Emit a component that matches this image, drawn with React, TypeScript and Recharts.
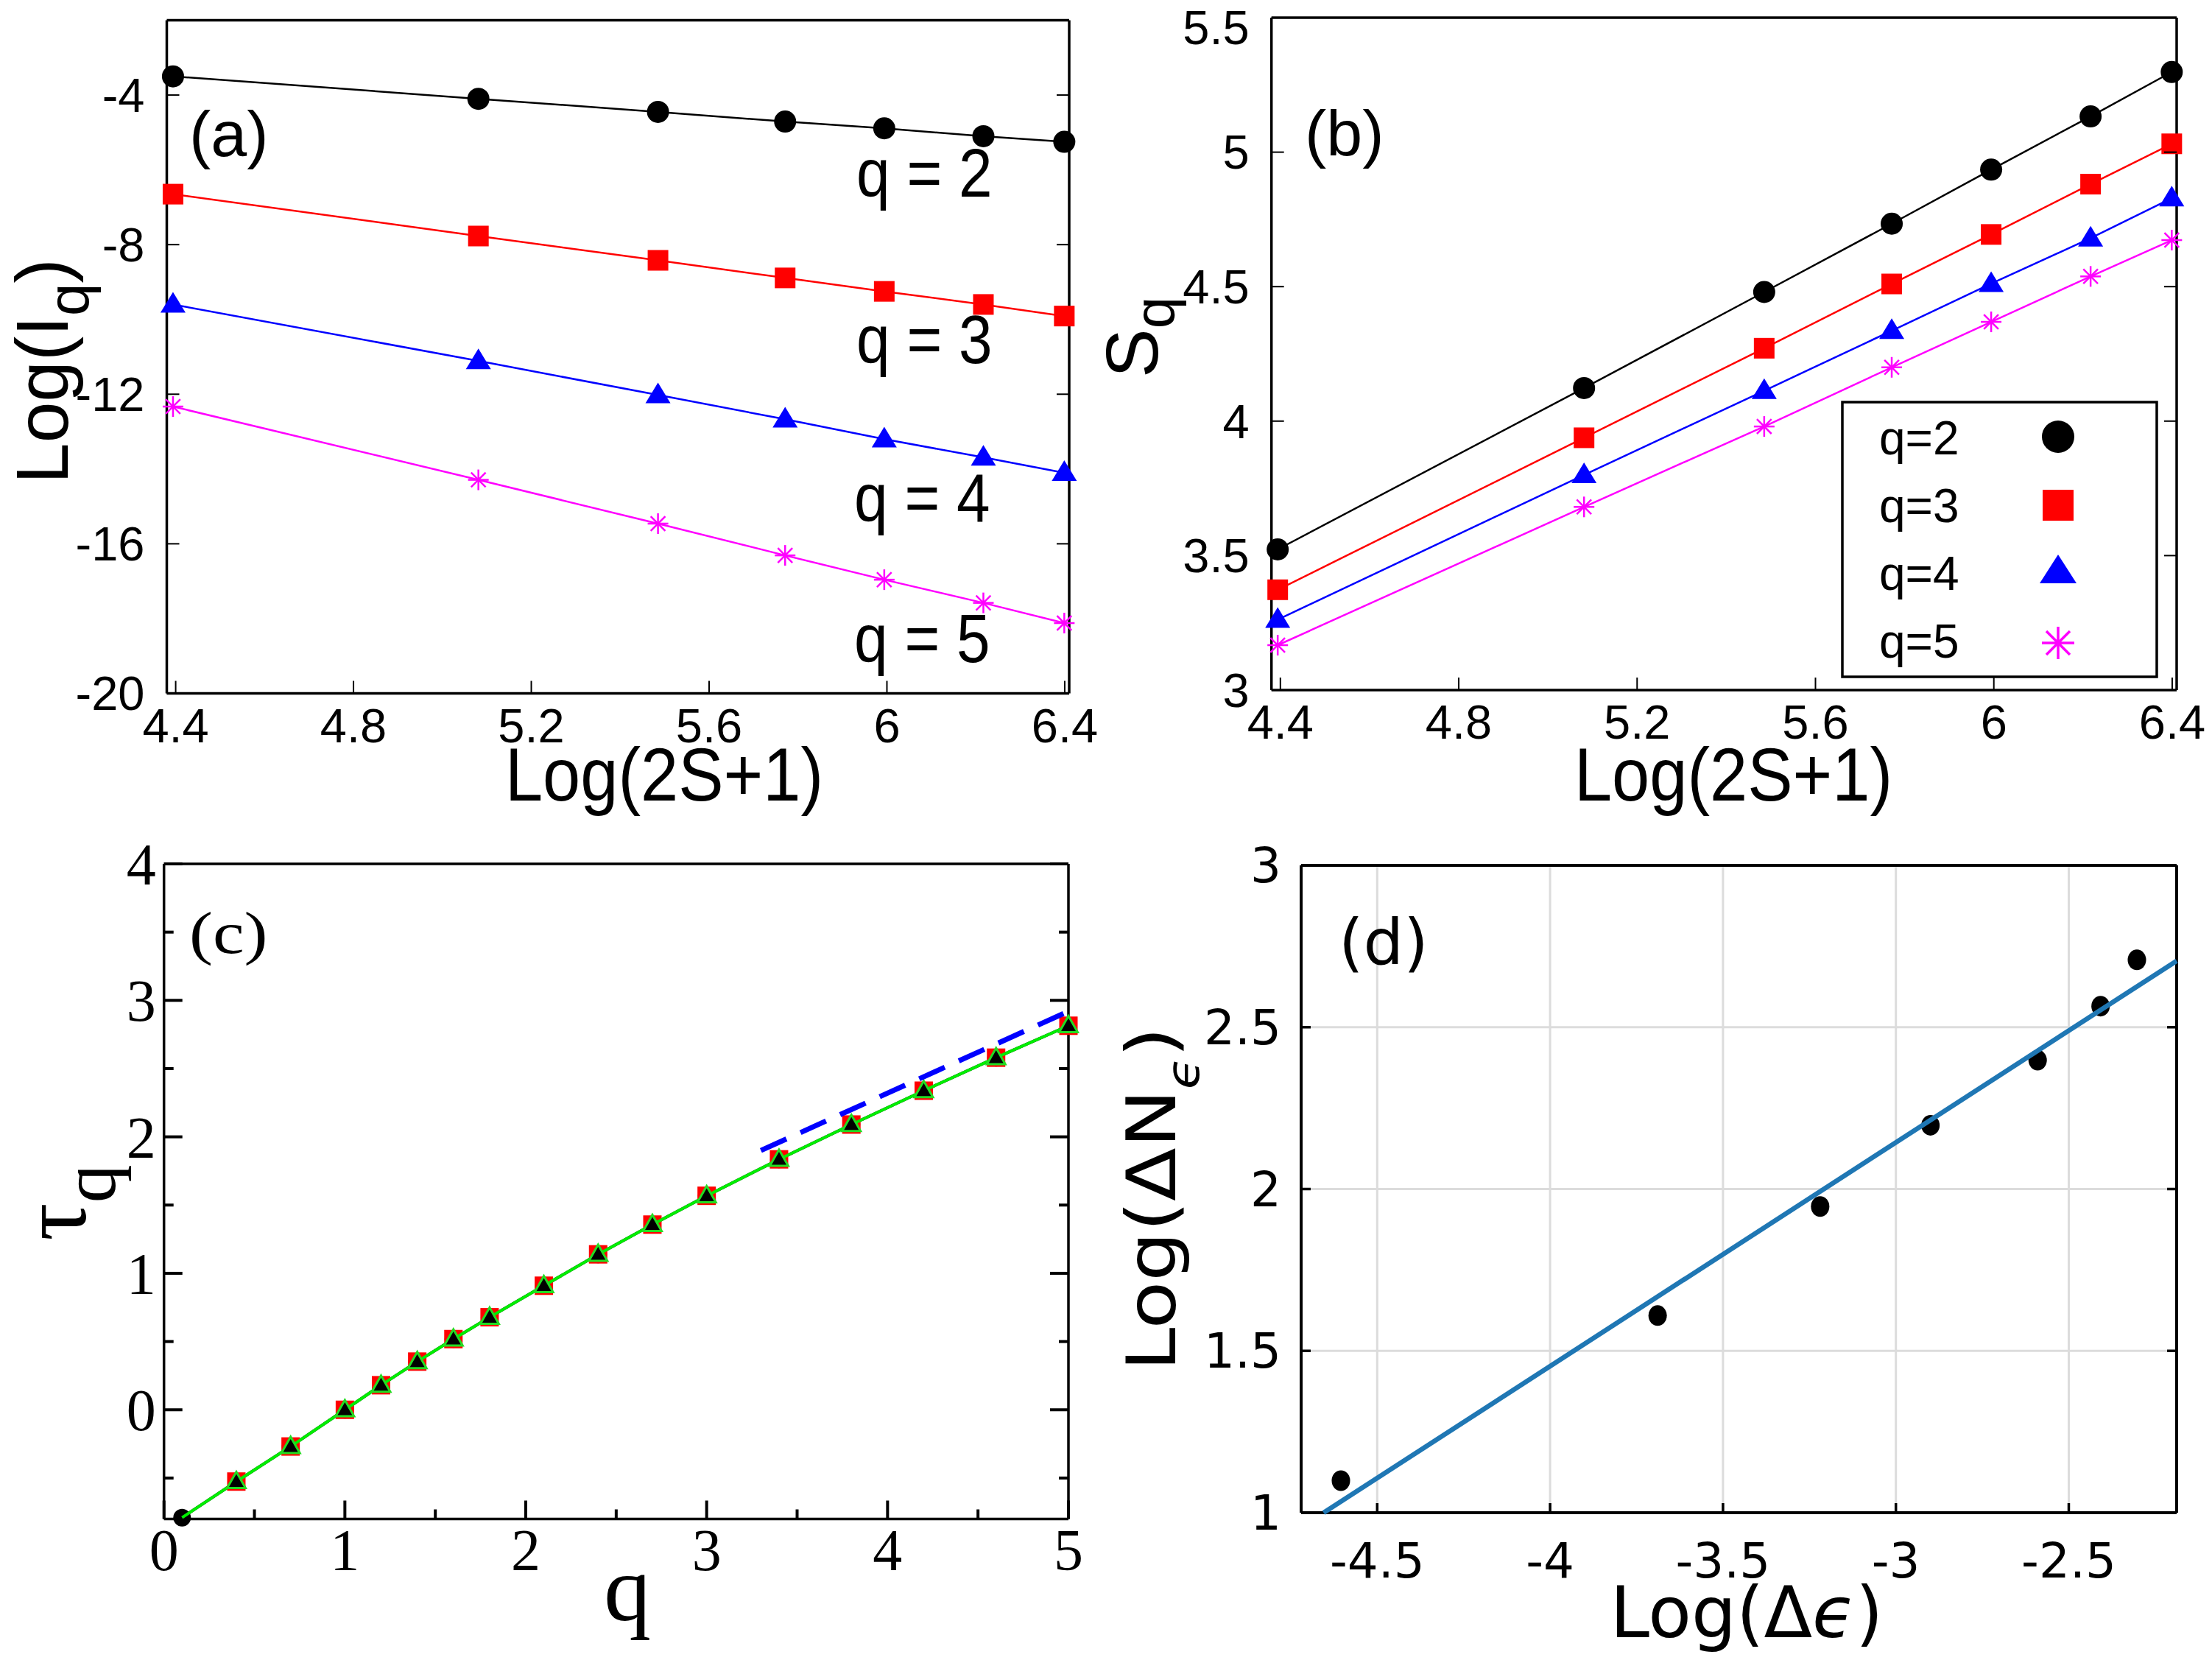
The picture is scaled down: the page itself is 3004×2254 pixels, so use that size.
import React from 'react';
import { ComposedChart, Scatter, XAxis, YAxis, CartesianGrid } from 'recharts';

const W = 3004;
const H = 2254;

const SANS = '"Liberation Sans", Arial, sans-serif';
const SERIF = '"Liberation Serif", "Times New Roman", serif';
const DEJAVU = '"DejaVu Sans", sans-serif';

// (a), (b): system size axis, Log(2S+1) for S = 40 ... 300
const logSize = [4.394, 5.081, 5.485, 5.771, 5.994, 6.217, 6.399];
const sizeTicks = [4.4, 4.8, 5.2, 5.6, 6, 6.4];

// (a) Log(I_q)
const logI2 = [-3.5, -4.1, -4.45, -4.71, -4.89, -5.1, -5.25];
const logI3 = [-6.65, -7.77, -8.42, -8.89, -9.25, -9.6, -9.91];
const logI4 = [-9.6, -11.11, -12.02, -12.67, -13.2, -13.69, -14.1];
const logI5 = [-12.33, -14.29, -15.46, -16.31, -16.96, -17.58, -18.12];
const logITicks = [-20, -16, -12, -8, -4];

// (b) S_q
const sq2 = [3.523, 4.123, 4.48, 4.734, 4.935, 5.133, 5.298];
const sq3 = [3.373, 3.938, 4.271, 4.51, 4.694, 4.881, 5.031];
const sq4 = [3.262, 3.8, 4.113, 4.336, 4.511, 4.68, 4.829];
const sq5 = [3.167, 3.681, 3.98, 4.2, 4.369, 4.538, 4.673];
const sqTicks = [3, 3.5, 4, 4.5, 5, 5.5];

// (c) tau_q
const qValues = [0.1, 0.4, 0.7, 1.0, 1.2, 1.4, 1.6, 1.8, 2.1, 2.4, 2.7, 3.0, 3.4, 3.8, 4.2, 4.6, 5.0];
const tauValues = [-0.79, -0.526, -0.269, 0, 0.18, 0.353, 0.518, 0.678, 0.909, 1.139, 1.357, 1.568, 1.835, 2.09, 2.338, 2.58, 2.814];
const slopeQ = [3.3, 5.0];
const slopeTau = [1.9, 2.92];
const qTicks = [0, 0.5, 1, 1.5, 2, 2.5, 3, 3.5, 4, 4.5, 5];
const tauTicks = [-0.5, 0, 0.5, 1, 1.5, 2, 2.5, 3, 3.5, 4];

// (d) Log(dN) vs Log(d eps)
const logEps = [-4.605, -3.689, -3.219, -2.9, -2.59, -2.408, -2.303];
const logDN = [1.099, 1.609, 1.946, 2.197, 2.398, 2.565, 2.708];
const fitEps = [-4.655, -2.188];
const fitDN = [1.0, 2.705];
const epsTicks = [-4.5, -4, -3.5, -3, -2.5];
const dnTicks = [1, 1.5, 2, 2.5, 3];

const pts = (xs: number[], ys: number[]) => xs.map((x, i) => ({ x, y: ys[i] }));

type Box = { left: number; right: number; top: number; bottom: number };

type TickStyle = {
  len: number;
  minorLen: number;
  width: number;
  isMajor: (v: number) => boolean;
  font: string;
  size: number;
  xDy: number;
  yGap: number;
};

function tickRenderer(side: 'bottom' | 'top' | 'left' | 'right', st: TickStyle) {
  return function TickMark(props: any) {
    const { x, y, payload } = props;
    const v = Number(payload.value);
    const major = st.isMajor(v);
    const len = major ? st.len : st.minorLen;
    let x2 = x;
    let y2 = y;
    if (side === 'bottom') y2 = y - len;
    if (side === 'top') y2 = y + len;
    if (side === 'left') x2 = x + len;
    if (side === 'right') x2 = x - len;
    // keep the topmost label inside the page
    const yBase = Math.max(y + st.size * 0.35, st.size * 0.92);
    return (
      <g>
        <line x1={x} y1={y} x2={x2} y2={y2} stroke="#000" strokeWidth={st.width} />
        {major && side === 'bottom' && (
          <text x={x} y={y + st.xDy} textAnchor="middle" fontFamily={st.font} fontSize={st.size} fill="#000">
            {String(v)}
          </text>
        )}
        {major && side === 'left' && (
          <text x={x - st.yGap} y={yBase} textAnchor="end" fontFamily={st.font} fontSize={st.size} fill="#000">
            {String(v)}
          </text>
        )}
      </g>
    );
  };
}

type PanelProps = {
  box: Box;
  xDomain: [number, number];
  yDomain: [number, number];
  xTicks: number[];
  yTicks: number[];
  st: TickStyle;
  frame: number;
  grid?: boolean;
  children: React.ReactNode;
};

function Panel({ box, xDomain, yDomain, xTicks, yTicks, st, frame, grid, children }: PanelProps) {
  const margin = { left: box.left - 1, right: W - box.right - 1, top: box.top - 1, bottom: H - box.bottom - 1 };
  const axisLine = { stroke: '#000', strokeWidth: frame };
  const common = { type: 'number' as const, interval: 0, tickSize: 0, tickMargin: 0, tickLine: false, axisLine };
  return (
    <div style={{ position: 'absolute', left: 0, top: 0 }}>
      <ComposedChart width={W} height={H} margin={margin}>
        {grid && <CartesianGrid stroke="#dcdcdc" strokeWidth={3} />}
        <XAxis {...common} dataKey="x" domain={xDomain} ticks={xTicks} height={1} tick={tickRenderer('bottom', st)} />
        <XAxis {...common} xAxisId="top" orientation="top" domain={xDomain} ticks={xTicks} allowDataOverflow height={1} tick={tickRenderer('top', st)} />
        <YAxis {...common} dataKey="y" domain={yDomain} ticks={yTicks} width={1} tick={tickRenderer('left', st)} />
        <YAxis {...common} yAxisId="right" orientation="right" domain={yDomain} ticks={yTicks} allowDataOverflow width={1} tick={tickRenderer('right', st)} />
        {children}
      </ComposedChart>
    </div>
  );
}

// marker shapes
const dot = (r: number, fill: string) => (p: any) => <circle cx={p.cx} cy={p.cy} r={r} fill={fill} />;
const oval = (rx: number, ry: number, fill: string) => (p: any) => <ellipse cx={p.cx} cy={p.cy} rx={rx} ry={ry} fill={fill} />;
const square = (s: number, fill: string) => (p: any) => (
  <rect x={p.cx - s / 2} y={p.cy - s / 2} width={s} height={s} fill={fill} />
);
const triangle = (w: number, h: number, fill: string, stroke = 'none', sw = 0) => (p: any) => (
  <polygon
    points={`${p.cx},${p.cy - h * 0.6} ${p.cx - w / 2},${p.cy + h * 0.4} ${p.cx + w / 2},${p.cy + h * 0.4}`}
    fill={fill}
    stroke={stroke}
    strokeWidth={sw}
  />
);
const asterisk = (s: number, color: string, sw: number) => (p: any) => {
  const r = s / 2;
  const d = r * 0.707;
  return (
    <g stroke={color} strokeWidth={sw}>
      <line x1={p.cx} y1={p.cy - r} x2={p.cx} y2={p.cy + r} />
      <line x1={p.cx - r} y1={p.cy} x2={p.cx + r} y2={p.cy} />
      <line x1={p.cx - d} y1={p.cy - d} x2={p.cx + d} y2={p.cy + d} />
      <line x1={p.cx - d} y1={p.cy + d} x2={p.cx + d} y2={p.cy - d} />
    </g>
  );
};
const noMark = () => <g />;

const allMajor = () => true;

const gStyle: TickStyle = { len: 17, minorLen: 17, width: 2, isMajor: allMajor, font: SANS, size: 65, xDy: 66, yGap: 30 };
const cStyle: TickStyle = { len: 25, minorLen: 13, width: 4, isMajor: (v) => Number.isInteger(v), font: SERIF, size: 80, xDy: 69, yGap: 11 };
const dStyle: TickStyle = { len: 13, minorLen: 13, width: 3.5, isMajor: allMajor, font: DEJAVU, size: 66, xDy: 88, yGap: 27 };

type TxtProps = {
  x: number;
  y: number;
  size: number;
  family: string;
  anchor?: 'start' | 'middle' | 'end';
  rotate?: number;
  sx?: number;
  sy?: number;
  children: React.ReactNode;
};

function Txt({ x, y, size, family, anchor = 'start', rotate = 0, sx = 1, sy = 1, children }: TxtProps) {
  return (
    <text
      transform={`translate(${x} ${y}) rotate(${rotate}) scale(${sx} ${sy})`}
      fontSize={size}
      fontFamily={family}
      textAnchor={anchor}
      fill="#000"
    >
      {children}
    </text>
  );
}

const legendRows = ['q=2', 'q=3', 'q=4', 'q=5'];

function Annotations() {
  return (
    <svg width={W} height={H} style={{ position: 'absolute', left: 0, top: 0 }}>
      {/* panel (a) */}
      <Txt x={257} y={212} size={88} family={SANS}>(a)</Txt>
      <Txt x={1163} y={267} size={82} family={SANS} sy={1.12}>q = 2</Txt>
      <Txt x={1163} y={493} size={82} family={SANS} sy={1.12}>q = 3</Txt>
      <Txt x={1160} y={708} size={82} family={SANS} sy={1.12}>q = 4</Txt>
      <Txt x={1160} y={899} size={82} family={SANS} sy={1.12}>q = 5</Txt>
      <Txt x={902} y={1087} size={92} family={SANS} anchor="middle" sy={1.1}>Log(2S+1)</Txt>
      <Txt x={92} y={504} size={100} family={SANS} anchor="middle" rotate={-90}>
        Log(I<tspan dy={28} fontSize={80}>q</tspan>
        <tspan dy={-28}>)</tspan>
      </Txt>

      {/* panel (b) */}
      <Txt x={1772} y={211} size={88} family={SANS}>(b)</Txt>
      <Txt x={2354} y={1087} size={92} family={SANS} anchor="middle" sy={1.1}>Log(2S+1)</Txt>
      <Txt x={1572} y={458} size={100} family={SANS} anchor="middle" rotate={-90}>
        S<tspan dy={23} fontSize={78}>q</tspan>
      </Txt>
      <rect x={2502} y={546} width={427} height={373} fill="#fff" stroke="#000" strokeWidth={3.5} />
      {legendRows.map((t, i) => (
        <Txt key={t} x={2552} y={617 + i * 92} size={64} family={SANS}>{t}</Txt>
      ))}
      <circle cx={2795} cy={593} r={22} fill="#000" />
      <rect x={2774} y={665} width={42} height={42} fill="#ff0000" />
      <polygon points="2795,753 2770,792 2820,792" fill="#0000ff" />
      <g stroke="#ff00ff" strokeWidth={3.5}>
        <line x1={2795} y1={851} x2={2795} y2={895} />
        <line x1={2773} y1={873} x2={2817} y2={873} />
        <line x1={2779} y1={857} x2={2811} y2={889} />
        <line x1={2779} y1={889} x2={2811} y2={857} />
      </g>

      {/* panel (c) */}
      <Txt x={257} y={1294} size={80} family={SERIF} sx={1.2}>(c)</Txt>
      <Txt x={852} y={2200} size={128} family={SERIF} anchor="middle">q</Txt>
      <Txt x={116} y={1633} size={128} family={SERIF} anchor="middle" rotate={-90}>
        τ<tspan dy={40} fontSize={104}>q</tspan>
      </Txt>

      {/* panel (d) */}
      <Txt x={1818} y={1309} size={86} family={DEJAVU}>(d)</Txt>
      <Txt x={2372} y={2223} size={96} family={DEJAVU} anchor="middle">
        Log(Δ<tspan fontStyle="italic">ϵ</tspan>)
      </Txt>
      <Txt x={1596} y={1628} size={93} family={DEJAVU} anchor="middle" rotate={-90} sx={1.14}>
        Log(ΔN<tspan dy={32} fontSize={62} fontStyle="italic">ϵ</tspan>
        <tspan dy={-32}>)</tspan>
      </Txt>
    </svg>
  );
}

export default function App() {
  return (
    <div style={{ position: 'absolute', left: 0, top: 0, width: W, height: H, background: '#fff' }}>
      <Panel
        box={{ left: 226.5, right: 1452, top: 27.5, bottom: 941.5 }}
        xDomain={[4.38, 6.41]}
        yDomain={[-20, -2]}
        xTicks={sizeTicks}
        yTicks={logITicks}
        st={gStyle}
        frame={3.5}
      >
        <Scatter data={pts(logSize, logI2)} dataKey="y" fill="#000" line={{ stroke: '#000', strokeWidth: 2.5 }} shape={dot(15, '#000')} isAnimationActive={false} />
        <Scatter data={pts(logSize, logI3)} dataKey="y" fill="#ff0000" line={{ stroke: '#ff0000', strokeWidth: 2.5 }} shape={square(28, '#ff0000')} isAnimationActive={false} />
        <Scatter data={pts(logSize, logI4)} dataKey="y" fill="#0000ff" line={{ stroke: '#0000ff', strokeWidth: 2.5 }} shape={triangle(34, 28, '#0000ff')} isAnimationActive={false} />
        <Scatter data={pts(logSize, logI5)} dataKey="y" fill="#ff00ff" line={{ stroke: '#ff00ff', strokeWidth: 2.5 }} shape={asterisk(28, '#ff00ff', 2.5)} isAnimationActive={false} />
      </Panel>

      <Panel
        box={{ left: 1726.7, right: 2956, top: 24, bottom: 937 }}
        xDomain={[4.38, 6.41]}
        yDomain={[3, 5.5]}
        xTicks={sizeTicks}
        yTicks={sqTicks}
        st={gStyle}
        frame={3.5}
      >
        <Scatter data={pts(logSize, sq2)} dataKey="y" fill="#000" line={{ stroke: '#000', strokeWidth: 2.5 }} shape={dot(15, '#000')} isAnimationActive={false} />
        <Scatter data={pts(logSize, sq3)} dataKey="y" fill="#ff0000" line={{ stroke: '#ff0000', strokeWidth: 2.5 }} shape={square(28, '#ff0000')} isAnimationActive={false} />
        <Scatter data={pts(logSize, sq4)} dataKey="y" fill="#0000ff" line={{ stroke: '#0000ff', strokeWidth: 2.5 }} shape={triangle(34, 28, '#0000ff')} isAnimationActive={false} />
        <Scatter data={pts(logSize, sq5)} dataKey="y" fill="#ff00ff" line={{ stroke: '#ff00ff', strokeWidth: 2.5 }} shape={asterisk(28, '#ff00ff', 2.5)} isAnimationActive={false} />
      </Panel>

      <Panel
        box={{ left: 222.7, right: 1451, top: 1173, bottom: 2062.5 }}
        xDomain={[0, 5]}
        yDomain={[-0.8, 4]}
        xTicks={qTicks}
        yTicks={tauTicks}
        st={cStyle}
        frame={3.5}
      >
        <Scatter data={pts(qValues, tauValues)} dataKey="y" fill="#000" line={{ stroke: '#000', strokeWidth: 4 }} shape={dot(12, '#000')} isAnimationActive={false} />
        <Scatter data={pts(qValues.slice(1), tauValues.slice(1))} dataKey="y" fill="#ff0000" shape={square(25, '#ff0000')} isAnimationActive={false} />
        <Scatter data={pts(qValues, tauValues)} dataKey="y" fill="#00ee00" line={{ stroke: '#00ee00', strokeWidth: 4 }} shape={noMark} isAnimationActive={false} />
        <Scatter data={pts(qValues.slice(1), tauValues.slice(1))} dataKey="y" fill="#000" shape={triangle(25, 22, '#000', '#22dd22', 3)} isAnimationActive={false} />
        <Scatter data={pts(slopeQ, slopeTau)} dataKey="y" fill="#0000ff" line={{ stroke: '#0000ff', strokeWidth: 7, strokeDasharray: '38 21' }} shape={noMark} isAnimationActive={false} />
      </Panel>

      <Panel
        box={{ left: 1767, right: 2956, top: 1175, bottom: 2054 }}
        xDomain={[-4.72, -2.188]}
        yDomain={[1, 3]}
        xTicks={epsTicks}
        yTicks={dnTicks}
        st={dStyle}
        frame={4}
        grid
      >
        <Scatter data={pts(logEps, logDN)} dataKey="y" fill="#000" shape={oval(12.5, 14, '#000')} isAnimationActive={false} />
        <Scatter data={pts(fitEps, fitDN)} dataKey="y" fill="#1f77b4" line={{ stroke: '#1f77b4', strokeWidth: 6.5 }} shape={noMark} isAnimationActive={false} />
      </Panel>

      <Annotations />
    </div>
  );
}
